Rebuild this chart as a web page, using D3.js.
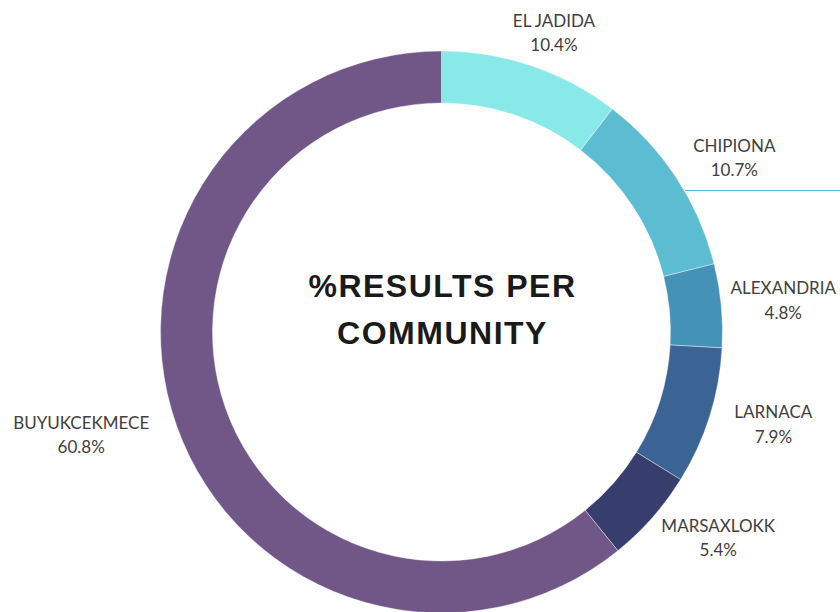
<!DOCTYPE html>
<html><head><meta charset="utf-8">
<script src="https://cdn.jsdelivr.net/npm/d3@7"></script>
<style>body{margin:0;background:#fff}svg{display:block}</style>
</head><body>
<svg id="chart" width="840" height="612"></svg>
<script>
const categories = ["EL JADIDA","CHIPIONA","ALEXANDRIA","LARNACA","MARSAXLOKK","BUYUKCEKMECE"];
const values = [10.4, 10.7, 4.8, 7.9, 5.4, 60.8];
const colors = ["#88e9e8","#5cbcd2","#4592b9","#3b6495","#373e6e","#715787"];
const titleLines = ["%RESULTS PER","COMMUNITY"];

const W = 840;
const svg = d3.select("#chart");
const cx = 441.5, cy = 332, R = 281, r = 229;
const g = svg.append("g").attr("transform",`translate(${cx},${cy})`);
const data = categories.map((c,i)=>({name:c,value:values[i],color:colors[i]}));
const pie = d3.pie().value(d=>d.value).sort(null);
const arc = d3.arc().innerRadius(r).outerRadius(R);
const arcs = pie(data);

// line next to CHIPIONA
svg.append("line").attr("x1",685).attr("x2",840).attr("y1",190.5).attr("y2",190.5)
  .attr("stroke","#5cbcd2").attr("stroke-width",1);

g.selectAll("path.slice").data(arcs).join("path").attr("class","slice")
  .attr("d",arc).attr("fill",d=>d.data.color)
  .attr("stroke","#ffffff").attr("stroke-width",0.4);

// labels
const k = 302, lh = 24.5, h = 48;
arcs.forEach(a=>{
  const th = (a.startAngle+a.endAngle)/2;
  const s = Math.sin(th), c = Math.cos(th);
  const lab = g.append("g");
  const t1 = lab.append("text").attr("text-anchor","middle").attr("y",0).text(a.data.name);
  const t2 = lab.append("text").attr("text-anchor","middle").attr("y",lh).text(d3.format(".1f")(a.data.value)+"%");
  lab.selectAll("text").attr("font-family","Lato, 'Open Sans', sans-serif").attr("font-size",17).attr("fill","#404040");
  const w = Math.max(t1.node().getComputedTextLength(), t2.node().getComputedTextLength());
  let lx = k*s + s*w/1.7, ly = -k*c - c*h/4;
  // keep inside the picture
  lx = Math.min(lx, W - 4 - cx - w/2);
  lx = Math.max(lx, 4 - cx + w/2);
  lab.attr("transform",`translate(${lx},${ly - 8})`);
});

// title
svg.selectAll("text.title").data(titleLines).join("text").attr("class","title")
  .attr("x",cx+1).attr("y",(d,i)=>297+i*47).attr("text-anchor","middle")
  .attr("font-family","'Liberation Sans', Arial, sans-serif").attr("font-weight","bold")
  .attr("font-size",32).attr("letter-spacing","1.5px").attr("fill","#1a1a1a").text(d=>d);
</script>
</body></html>
